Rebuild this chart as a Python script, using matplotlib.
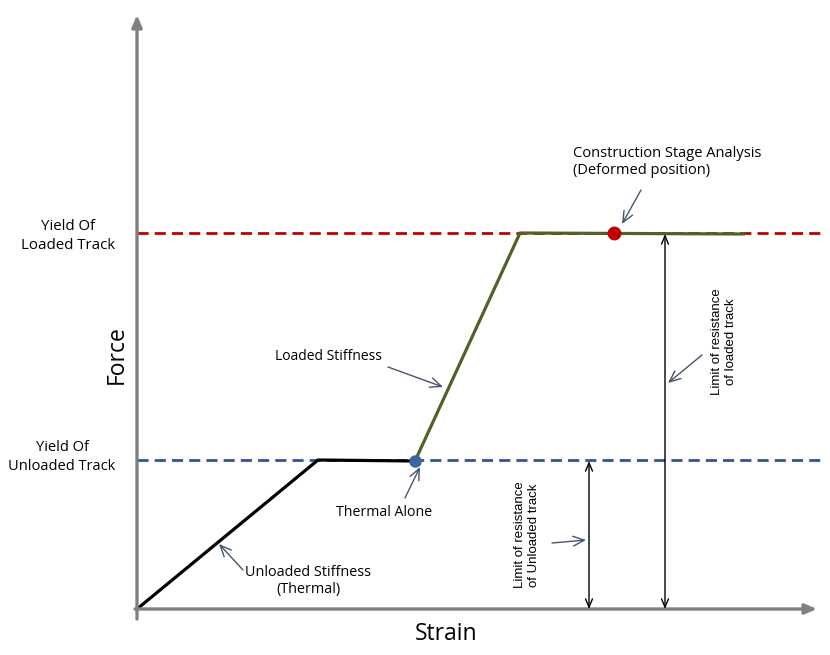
import matplotlib
matplotlib.use("Agg")
import matplotlib.pyplot as plt

# ---- data (strain / force in diagram units) ----
unloaded_strain = [0, 181, 278]
unloaded_force = [0, 149, 148]
loaded_strain = [278, 383, 608]
loaded_force = [148, 376, 375]
yield_unloaded = 149
yield_loaded = 376
thermal_alone = (278, 148)
csa_point = (477, 376)
limit_unloaded_x = 452
limit_loaded_x = 528
x_axis_end = 680
y_axis_end = 594
dash_end = 684

FONT = ["Open Sans", "DejaVu Sans"]
ARIAL = ["Liberation Sans", "DejaVu Sans"]
ANN = "#44546a"

fig = plt.figure(figsize=(8.3, 6.55), dpi=100)
ax = fig.add_axes([0, 0, 1, 1])
ax.set_xlim(-137, 830 - 137)
ax.set_ylim(609 - 655, 609)
ax.axis("off")

# dashed yield lines
ax.plot([0, dash_end], [yield_loaded, yield_loaded], color="#c00000", lw=2,
        dashes=(4, 2.2), zorder=2)
ax.plot([0, dash_end], [yield_unloaded, yield_unloaded], color="#2f5597", lw=2,
        dashes=(4, 2.2), zorder=2)

# curves
ax.plot(unloaded_strain, unloaded_force, color="black", lw=2.3, zorder=3,
        solid_capstyle="butt")
ax.plot(loaded_strain, loaded_force, color="#4f6228", lw=2.3, zorder=3,
        solid_capstyle="butt")
ax.plot(*thermal_alone, "o", color="#3b64a0", ms=8, zorder=5)
ax.plot(*csa_point, "o", color="#c00000", ms=9, zorder=5)

# axes arrows
axis_kw = dict(arrowstyle="-|>,head_length=0.7,head_width=0.3", color="#808080",
               lw=2.4, shrinkA=0, shrinkB=0)
ax.annotate("", xy=(x_axis_end, 0), xytext=(-2, 0), arrowprops=axis_kw, zorder=4)
ax.annotate("", xy=(0, y_axis_end), xytext=(0, -10), arrowprops=axis_kw, zorder=4)

# limit double arrows
dbl = dict(arrowstyle="<->,head_length=0.6,head_width=0.25", color="black",
           lw=1.0, shrinkA=0, shrinkB=0)
ax.annotate("", xy=(limit_unloaded_x, 0), xytext=(limit_unloaded_x, yield_unloaded - 1),
            arrowprops=dbl, zorder=4)
ax.annotate("", xy=(limit_loaded_x, 0), xytext=(limit_loaded_x, yield_loaded - 1),
            arrowprops=dbl, zorder=4)

# axis titles
ax.text(-20, 254, "Force", rotation=90, ha="center", va="center",
        fontsize=16.5, family=FONT)
ax.text(309, -25, "Strain", ha="center", va="center", fontsize=16.5, family=FONT)

# yield labels
ax.text(-69, 373, "Yield Of\nLoaded Track", ha="center", va="center",
        fontsize=10.8, family=FONT, linespacing=1.3)
ax.text(-75, 152, "Yield Of\nUnloaded Track", ha="center", va="center",
        fontsize=10.5, family=FONT, linespacing=1.3)

ann = dict(arrowstyle="->,head_length=0.8,head_width=0.35", color=ANN, lw=1.0,
           shrinkA=0, shrinkB=0)

# Loaded stiffness
ax.text(191, 253, "Loaded Stiffness", ha="center", va="center", fontsize=10,
        family=FONT)
ax.annotate("", xy=(306, 222), xytext=(251, 242), arrowprops=ann)

# Thermal alone
ax.text(247, 97, "Thermal Alone", ha="center", va="center", fontsize=10.2,
        family=FONT)
ax.annotate("", xy=(283, 142), xytext=(268, 111), arrowprops=ann)

# Unloaded stiffness
ax.text(171, 28, "Unloaded Stiffness\n(Thermal)", ha="center", va="center",
        fontsize=10.4, family=FONT, linespacing=1.25)
ax.annotate("", xy=(82, 65), xytext=(106, 39), arrowprops=ann)

# Construction stage analysis
ax.text(436, 447, "Construction Stage Analysis\n(Deformed position)", ha="left",
        va="center", fontsize=10.5, family=FONT, linespacing=1.25)
ax.annotate("", xy=(485, 385), xytext=(504, 419), arrowprops=ann)

# Limit of resistance (loaded)
ax.text(587, 267, "Limit of resistance\nof loaded track", rotation=90,
        ha="center", va="center", fontsize=9.5, family=ARIAL, linespacing=1.15)
ax.annotate("", xy=(531, 226), xytext=(565, 254), arrowprops=ann)

# Limit of resistance (unloaded)
ax.text(390, 74, "Limit of resistance\nof Unloaded track", rotation=90,
        ha="center", va="center", fontsize=9.5, family=ARIAL, linespacing=1.15)
ax.annotate("", xy=(449, 69), xytext=(415, 66), arrowprops=ann)

fig.savefig("out.png", dpi=100)
